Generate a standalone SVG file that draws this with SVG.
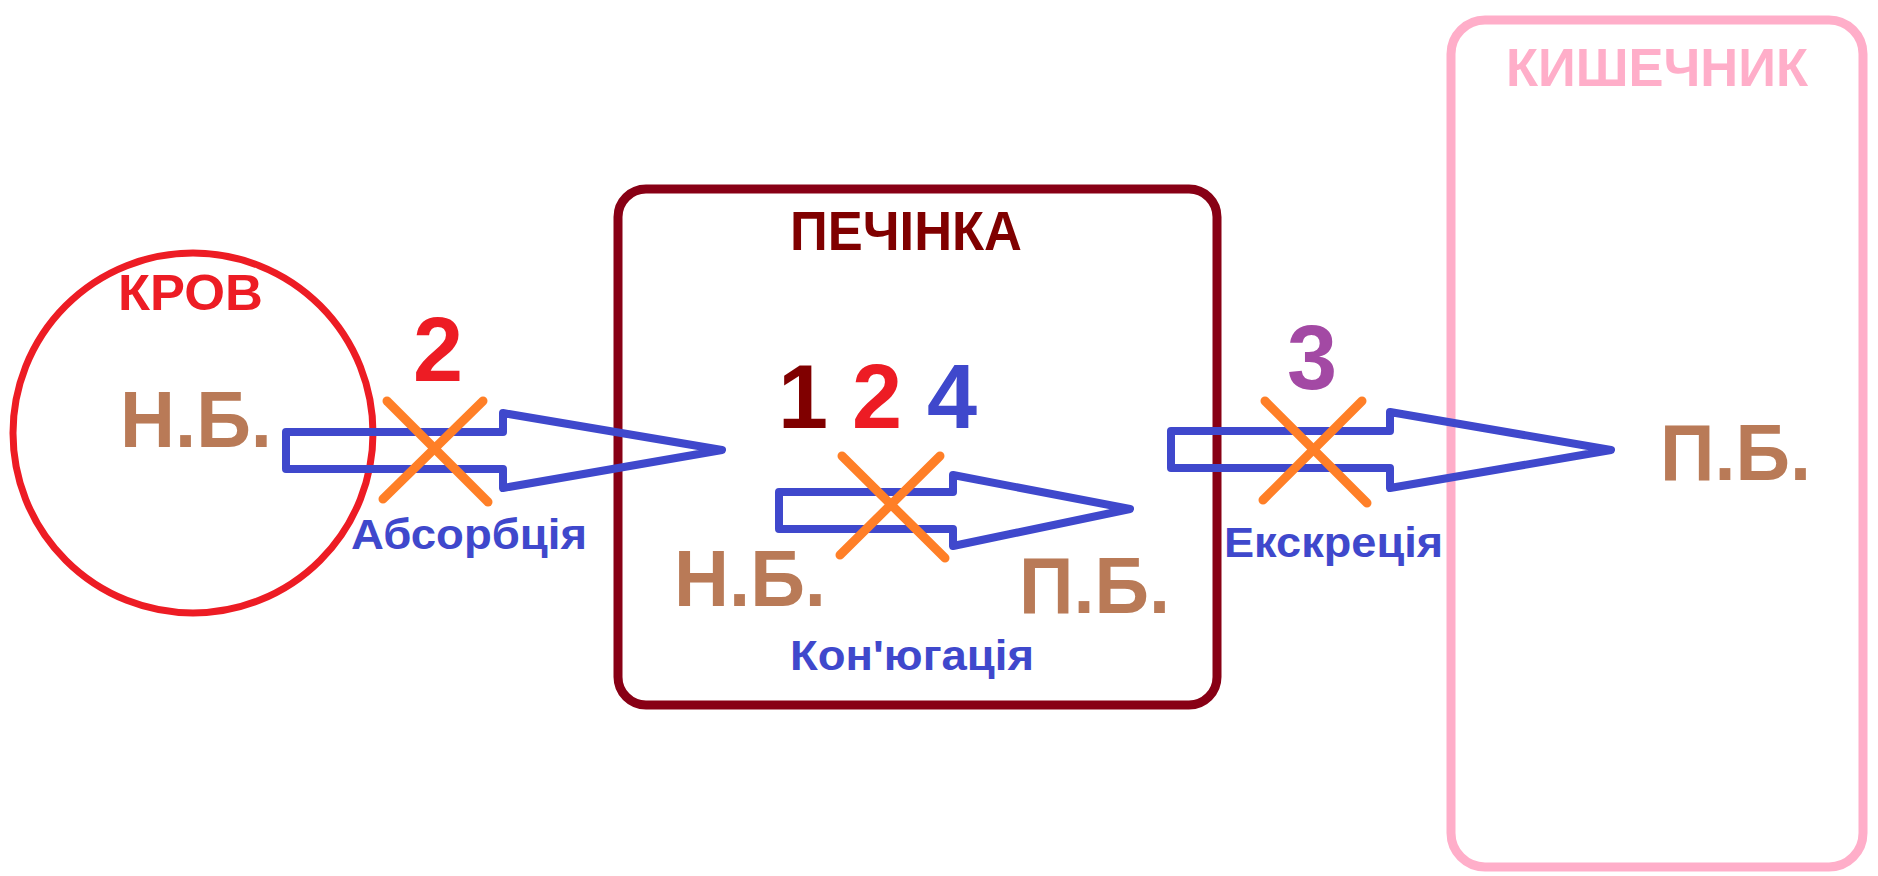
<svg xmlns="http://www.w3.org/2000/svg" width="1878" height="876" viewBox="0 0 1878 876">
  <style>
    text { font-family: "Liberation Sans", Arial, sans-serif; font-weight: bold; }
    .bil { fill: #b97a57; font-size: 80px; }
    .proc { fill: #3f48cc; font-size: 42px; }
    .num { font-size: 90px; text-anchor: middle; }
    .flow { fill: none; stroke: #3f48cc; stroke-width: 8; stroke-linejoin: round; }
    .block { fill: none; stroke: #ff7f27; stroke-width: 9; stroke-linecap: round; }
  </style>

  <rect width="1878" height="876" fill="#ffffff"/>

  <!-- Blood compartment -->
  <g id="blood">
    <ellipse cx="193" cy="433" rx="180" ry="180" fill="none" stroke="#ed1c24" stroke-width="7"/>
    <text x="118" y="310" font-size="50" fill="#ed1c24" textLength="145" lengthAdjust="spacingAndGlyphs">КРОВ</text>
    <text class="bil" x="120" y="447" textLength="152" lengthAdjust="spacingAndGlyphs">Н.Б.</text>
  </g>

  <!-- Liver compartment -->
  <g id="liver">
    <rect x="618" y="189" width="599" height="516" rx="28" ry="28" fill="none" stroke="#880015" stroke-width="9"/>
    <text x="790" y="250" font-size="55" fill="#800000" textLength="232" lengthAdjust="spacingAndGlyphs">ПЕЧІНКА</text>
    <text class="bil" x="674" y="606" textLength="152" lengthAdjust="spacingAndGlyphs">Н.Б.</text>
    <text class="bil" x="1019" y="613" textLength="151" lengthAdjust="spacingAndGlyphs">П.Б.</text>
    <text class="num" x="803" y="428" fill="#800000">1</text>
    <text class="num" x="877" y="428" fill="#ed1c24">2</text>
    <text class="num" x="952" y="428" fill="#3f48cc">4</text>
  </g>

  <!-- Intestine compartment -->
  <g id="intestine">
    <rect x="1451" y="20" width="412" height="847" rx="34" ry="34" fill="none" stroke="#ffaec9" stroke-width="9"/>
    <text x="1506" y="86" font-size="54" fill="#ffaec9" textLength="302" lengthAdjust="spacingAndGlyphs">КИШЕЧНИК</text>
    <text class="bil" x="1660" y="480" textLength="151" lengthAdjust="spacingAndGlyphs">П.Б.</text>
  </g>

  <!-- Transport steps: hollow arrows, blocking crosses and labels -->
  <g id="connectors">
    <g id="absorption">
      <path class="flow" d="M286,432 H503 V413 L722,450 L503,488 V469 H286 Z"/>
      <line class="block" x1="387" y1="401" x2="488" y2="502"/>
      <line class="block" x1="483" y1="401" x2="383" y2="499"/>
      <text class="num" x="438" y="381" fill="#ed1c24">2</text>
      <text class="proc" x="351" y="549" textLength="236" lengthAdjust="spacingAndGlyphs">Абсорбція</text>
    </g>
    <g id="conjugation">
      <path class="flow" d="M779,492 H953 V475 L1130,509 L953,546 V529 H779 Z"/>
      <line class="block" x1="842" y1="456" x2="945" y2="558"/>
      <line class="block" x1="940" y1="456" x2="840" y2="555"/>
      <text class="proc" x="790" y="670" textLength="244" lengthAdjust="spacingAndGlyphs">Кон'югація</text>
    </g>
    <g id="excretion">
      <path class="flow" d="M1171,431 H1390 V412 L1611,450 L1390,488 V468 H1171 Z"/>
      <line class="block" x1="1265" y1="401" x2="1367" y2="503"/>
      <line class="block" x1="1362" y1="401" x2="1263" y2="500"/>
      <text class="num" x="1312" y="389" fill="#a349a4">3</text>
      <text class="proc" x="1224" y="557" font-size="40" textLength="219" lengthAdjust="spacingAndGlyphs">Екскреція</text>
    </g>
  </g>
</svg>
